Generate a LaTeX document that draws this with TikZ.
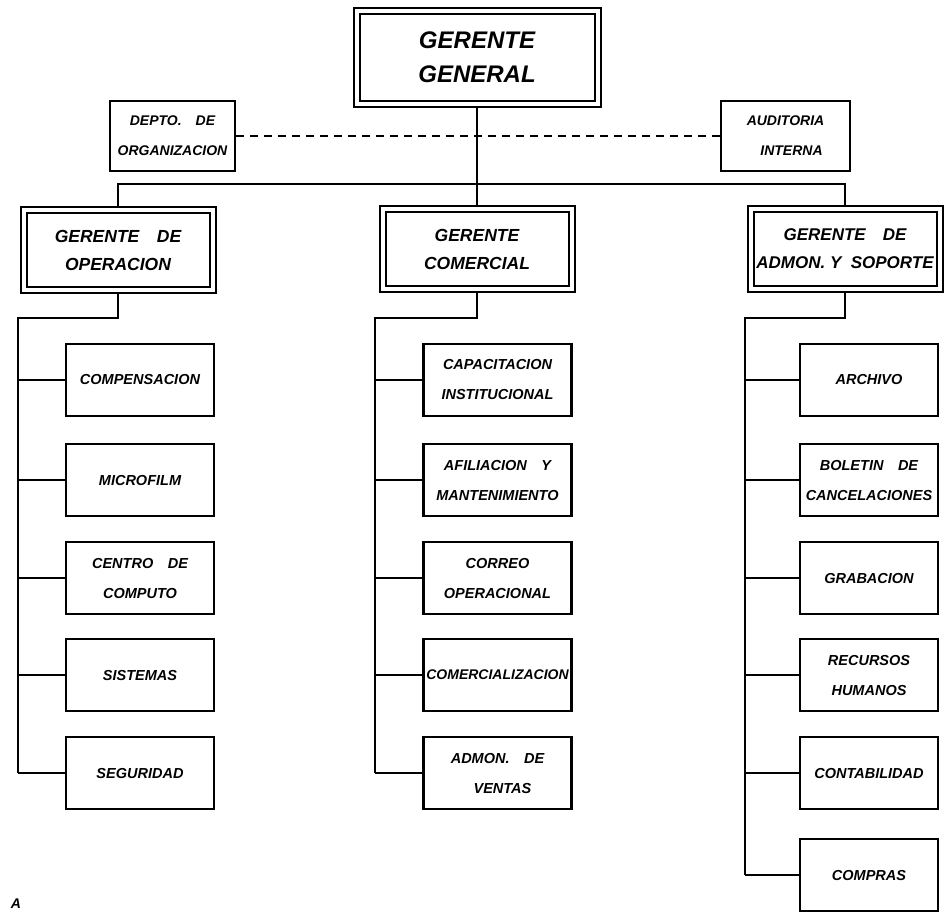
\documentclass[tikz,border=0pt]{standalone}
\usepackage{fontspec}
\setmainfont{Liberation Sans}
\usepackage{tikz}

\begin{document}
\begin{tikzpicture}[x=1pt,y=-1pt,
  jefe/.style={draw,double,double distance=4pt,line width=2pt,outer sep=4pt,inner sep=0pt,align=center,
    minimum width=189pt,minimum height=80pt,font=\bfseries\itshape\fontsize{17.5}{28}\selectfont},
  staff/.style={draw,line width=2.2pt,inner sep=0pt,align=center,minimum height=70pt,
    font=\bfseries\itshape\fontsize{14}{30}\selectfont},
  unidad/.style={draw,line width=2.2pt,inner sep=0pt,align=center,minimum width=148pt,minimum height=72pt,
    font=\bfseries\itshape\fontsize{14.5}{30}\selectfont},
  linea/.style={line width=2.2pt}]
\useasboundingbox (0,0) rectangle (950,916);
\node[jefe,minimum width=241pt,minimum height=93pt,font=\bfseries\itshape\fontsize{24}{34}\selectfont] (gg) at (477,57.5) {GERENTE\\GENERAL};
\node[staff,minimum width=125pt] (depto) at (172.5,136) {DEPTO.\quad DE\\ORGANIZACION};
\node[staff,minimum width=129pt] (audit) at (785.5,136) {AUDITORIA\\\hspace{12pt}INTERNA};
\node[jefe] (gop) at (118,250) {GERENTE\quad DE\\OPERACION};
\node[jefe] (gcom) at (477,249) {GERENTE\\COMERCIAL};
\node[jefe,font=\bfseries\itshape\fontsize{17}{28}\selectfont] (gadm) at (845,249) {GERENTE\quad DE\\ADMON. Y\ \ SOPORTE};
% operacion
\node[unidad] (comp) at (140,380) {COMPENSACION};
\node[unidad] (micro) at (140,480) {MICROFILM};
\node[unidad] (centro) at (140,578) {CENTRO\quad DE\\COMPUTO};
\node[unidad] (sist) at (140,675) {SISTEMAS};
\node[unidad] (segur) at (140,773) {SEGURIDAD};
% comercial
\node[unidad] (capac) at (497.5,380) {CAPACITACION\\INSTITUCIONAL};
\node[unidad] (afil) at (497.5,480) {AFILIACION\quad Y\\MANTENIMIENTO};
\node[unidad] (correo) at (497.5,578) {CORREO\\OPERACIONAL};
\node[unidad,font=\bfseries\itshape\fontsize{14}{30}\selectfont] (comerc) at (497.5,675) {COMERCIALIZACION};
\node[unidad] (admven) at (497.5,773) {ADMON.\quad DE\\\hspace{10pt}VENTAS};
% admon y soporte
\node[unidad,minimum width=138pt] (archivo) at (869,380) {ARCHIVO};
\node[unidad,minimum width=138pt] (boletin) at (869,480) {BOLETIN\quad DE\\CANCELACIONES};
\node[unidad,minimum width=138pt] (grab) at (869,578) {GRABACION};
\node[unidad,minimum width=138pt] (rrhh) at (869,675) {RECURSOS\\HUMANOS};
\node[unidad,minimum width=138pt] (conta) at (869,773) {CONTABILIDAD};
\node[unidad,minimum width=138pt] (compras) at (869,875) {COMPRAS};
\node[font=\bfseries\itshape\fontsize{14}{16}\selectfont] (letra) at (16,904) {A};

\coordinate (busl) at (118,184);
\coordinate (busr) at (845,184);
\coordinate (sop) at (18,318);
\coordinate (scom) at (375,318);
\coordinate (sadm) at (745,318);

\draw[linea] (gg.south) -- (gcom.north);
\draw[linea] (gop.north) -- (busl) -- (busr) -- (gadm.north);
\draw[line width=1.8pt,dash pattern=on 8pt off 6pt] (depto.east) -- (audit.west);

\draw[linea] (gop.south) |- (sop) -- (sop |- segur.west);
\draw[linea] (sop |- comp.west) -- (comp.west);
\draw[linea] (sop |- micro.west) -- (micro.west);
\draw[linea] (sop |- centro.west) -- (centro.west);
\draw[linea] (sop |- sist.west) -- (sist.west);
\draw[linea] (sop |- segur.west) -- (segur.west);

\draw[linea] (gcom.south) |- (scom) -- (scom |- admven.west);
\draw[linea] (scom |- capac.west) -- (capac.west);
\draw[linea] (scom |- afil.west) -- (afil.west);
\draw[linea] (scom |- correo.west) -- (correo.west);
\draw[linea] (scom |- comerc.west) -- (comerc.west);
\draw[linea] (scom |- admven.west) -- (admven.west);

\draw[linea] (gadm.south) |- (sadm) -- (sadm |- compras.west);
\draw[linea] (sadm |- archivo.west) -- (archivo.west);
\draw[linea] (sadm |- boletin.west) -- (boletin.west);
\draw[linea] (sadm |- grab.west) -- (grab.west);
\draw[linea] (sadm |- rrhh.west) -- (rrhh.west);
\draw[linea] (sadm |- conta.west) -- (conta.west);
\draw[linea] (sadm |- compras.west) -- (compras.west);
\end{tikzpicture}
\end{document}
